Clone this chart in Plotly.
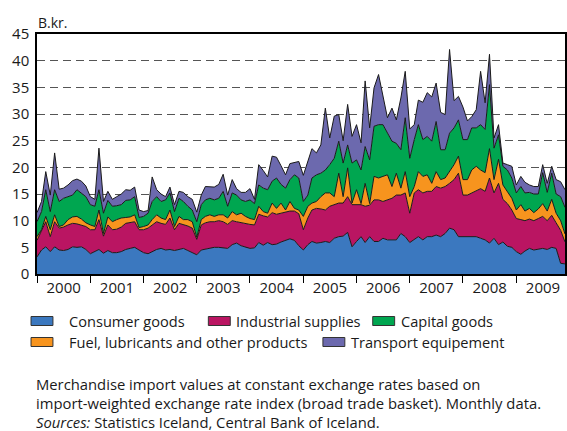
import plotly.graph_objects as go
import pandas as pd

# ---- data (B.kr., monthly, Jan 2000 - Dec 2009) ----
months = pd.date_range("2000-01-01", "2009-12-01", freq="MS")

consumer = [3.2, 4.5, 5.1, 4.2, 5.1, 4.5, 4.4, 4.6, 5.1, 5.0, 5.1, 4.6,
            3.8, 4.2, 4.6, 3.9, 4.4, 4.0, 4.0, 4.2, 4.6, 4.8, 5.0, 4.5,
            4.0, 3.8, 4.2, 4.6, 4.8, 4.5, 4.6, 4.4, 4.6, 4.8, 4.4, 4.0,
            3.6, 4.5, 4.7, 4.8, 5.0, 5.0, 4.9, 4.8, 5.5, 5.8, 5.3, 5.0,
            4.8, 4.9, 5.9, 5.4, 5.9, 5.5, 5.6, 6.0, 6.3, 6.6, 6.3, 5.3,
            4.5, 5.5, 6.1, 5.8, 5.9, 6.1, 5.9, 6.7, 7.0, 7.1, 7.8, 5.1,
            6.1, 7.0, 5.9, 7.0, 6.1, 6.1, 6.7, 6.4, 6.4, 6.4, 7.6, 7.0,
            5.9, 6.4, 7.0, 6.4, 7.0, 7.0, 7.3, 7.0, 7.6, 8.6, 8.3, 7.0,
            7.0, 6.9, 7.0, 7.0, 6.7, 6.4, 5.8, 6.7, 5.5, 6.0, 5.2, 5.0,
            4.2, 3.7, 4.3, 4.8, 4.5, 4.6, 4.8, 4.6, 5.0, 4.8, 2.0, 1.9]

industrial = [3.1, 3.5, 4.7, 2.8, 4.7, 4.1, 4.4, 4.6, 4.4, 4.4, 4.1, 4.3,
              4.5, 4.1, 5.6, 3.2, 4.8, 4.3, 4.4, 4.6, 4.9, 4.8, 4.8, 3.8,
              4.3, 4.8, 5.0, 5.2, 4.7, 4.8, 5.9, 3.9, 4.9, 4.5, 4.6, 4.6,
              2.9, 4.7, 4.9, 5.0, 4.8, 5.0, 4.9, 4.5, 4.5, 4.0, 4.3, 4.4,
              4.5, 4.3, 5.3, 5.5, 4.8, 6.0, 5.6, 5.4, 5.3, 5.2, 5.5, 6.0,
              3.8, 5.0, 5.9, 6.5, 6.3, 5.9, 6.8, 6.3, 6.3, 6.2, 6.7, 7.9,
              6.9, 6.0, 6.8, 5.9, 7.8, 7.8, 6.9, 7.5, 7.8, 8.4, 7.2, 8.2,
              5.5, 8.8, 8.8, 8.8, 8.5, 8.5, 9.1, 9.1, 8.8, 8.4, 9.4, 11.9,
              7.8, 7.9, 8.2, 8.5, 9.3, 9.1, 12.2, 8.5, 11.5, 8.0, 8.0, 7.0,
              6.2, 6.5, 5.7, 5.5, 5.5, 5.8, 6.0, 5.4, 6.0, 4.8, 6.2, 4.1]

fuel = [0.7, 0.3, 1.0, 1.3, 1.3, 0.3, 0.4, 1.0, 1.2, 1.4, 1.1, 0.7,
        0.9, 0.6, 1.8, 0.5, 1.5, 1.5, 1.8, 1.7, 1.1, 1.1, 1.3, 0.4,
        0.6, 0.6, 1.0, 1.3, 1.0, 0.9, 1.5, 0.6, 1.3, 0.9, 1.2, 1.2,
        0.4, 1.0, 1.2, 1.3, 1.0, 1.1, 1.3, 1.2, 1.7, 1.3, 1.8, 1.4,
        1.1, 1.0, 1.5, 0.8, 0.7, 1.8, 1.1, 1.9, 0.4, 1.8, 0.5, 0.7,
        2.5, 2.2, 1.3, 1.3, 2.3, 3.2, 2.5, 1.5, 5.6, 1.2, 5.4, 0.3,
        2.8, 0.2, 4.3, 0.3, 4.4, 4.1, 4.7, 4.7, 2.2, 4.1, 1.3, 4.0,
        3.1, 1.2, 3.4, 3.1, 3.1, 1.5, 2.8, 1.6, 1.6, 2.2, 2.8, 3.2,
        2.9, 2.9, 4.3, 4.7, 3.5, 3.5, 5.5, 2.5, 4.5, 2.7, 2.3, 2.2,
        1.6, 2.8, 1.8, 2.0, 1.5, 1.8, 2.4, 1.8, 3.0, 1.8, 1.8, 1.5]

capital = [2.8, 3.4, 5.0, 3.4, 4.7, 4.7, 5.0, 4.3, 4.1, 5.0, 4.9, 4.9,
           3.8, 3.8, 3.8, 3.8, 3.1, 2.9, 2.6, 2.5, 3.2, 3.2, 3.4, 1.9,
           1.9, 2.2, 3.4, 3.4, 3.1, 3.7, 3.2, 2.8, 3.4, 3.4, 2.5, 2.2,
           2.9, 2.8, 3.1, 3.1, 3.1, 3.1, 4.4, 2.2, 3.5, 3.7, 2.5, 2.8,
           3.5, 3.0, 4.0, 4.4, 4.4, 4.1, 5.7, 3.5, 4.1, 4.1, 6.3, 6.0,
           2.8, 2.1, 4.7, 5.0, 4.4, 4.3, 5.3, 7.2, 6.0, 6.3, 4.3, 7.5,
           5.6, 6.3, 6.9, 8.2, 9.4, 10.0, 9.7, 7.8, 8.5, 5.6, 7.2, 10.1,
           7.2, 8.8, 8.8, 6.9, 7.2, 7.9, 9.4, 5.6, 5.3, 7.2, 6.9, 6.8,
           7.5, 7.5, 7.9, 7.2, 8.5, 8.1, 12.0, 5.9, 4.6, 3.5, 4.0, 3.8,
           3.2, 3.4, 3.4, 3.0, 3.5, 2.8, 5.8, 3.5, 4.9, 3.6, 4.5, 5.0]

transport = [1.7, 1.9, 3.4, 3.1, 6.9, 2.3, 1.9, 2.2, 2.7, 2.0, 2.2, 2.0,
             1.5, 1.3, 7.8, 2.2, 1.7, 1.3, 1.7, 2.0, 2.0, 1.8, 1.8, 1.4,
             0.9, 0.5, 4.6, 1.3, 1.4, 0.6, 1.1, 1.3, 1.3, 1.7, 1.8, 2.0,
             1.8, 1.8, 2.5, 2.1, 2.4, 2.6, 3.2, 2.1, 2.5, 1.2, 1.4, 1.7,
             2.1, 0.8, 3.8, 3.3, 2.4, 4.7, 3.9, 3.5, 2.5, 3.0, 2.3, 3.1,
             4.9, 6.2, 5.5, 4.1, 5.3, 11.6, 5.0, 7.9, 5.0, 4.2, 7.6, 5.0,
             6.6, 5.1, 12.3, 6.0, 7.2, 9.4, 5.3, 2.9, 6.2, 4.4, 9.7, 8.7,
             5.5, 2.8, 4.6, 7.0, 8.2, 8.3, 7.2, 7.0, 6.6, 15.7, 5.1, 4.4,
             6.1, 3.5, 2.1, 3.4, 10.0, 5.0, 5.7, 1.9, 1.9, 0.6, 1.0, 2.2,
             1.5, 1.9, 2.0, 1.4, 1.4, 1.4, 1.5, 1.7, 1.3, 2.7, 2.8, 3.3]

series_names = ["Consumer goods", "Industrial supplies",
                "Fuel, lubricants and other products", "Capital goods",
                "Transport equipement"]
series_values = [consumer, industrial, fuel, capital, transport]
series_colors = ["#3B78BF", "#BA1562", "#F7941E", "#00A650", "#6C69AE"]

y_ticks = list(range(0, 50, 5))

fig = go.Figure()
for name, vals, col in zip(series_names, series_values, series_colors):
    fig.add_trace(go.Scatter(
        x=months, y=vals, name=name, mode="lines", stackgroup="one",
        line=dict(color="#1a1a1a", width=1), fillcolor=col,
        showlegend=False, hoverinfo="skip"))

# plot-area geometry (pixels) for legend/caption placement
L, R, T, B = 37, 567, 34, 274
W, H = R - L, B - T


def px(x):
    return (x - L) / W


def py(y):
    return (B - y) / H


txt = "#1a1a1a"
fig.update_layout(
    width=567, height=431,
    margin=dict(l=L, r=567 - R, t=T, b=431 - B),
    paper_bgcolor="white", plot_bgcolor="white",
    font=dict(family="Open Sans", size=14, color=txt),
    showlegend=False,
    xaxis=dict(
        type="date", range=[months[0], months[-1]],
        tick0="2000-01-01", dtick="M12", tickformat="%Y",
        ticklabelmode="period", ticks="outside", ticklen=7,
        tickcolor="black", tickwidth=1, ticklabelstandoff=-8,
        showline=True, linecolor="black", linewidth=1.5, mirror=True,
        showgrid=False, tickfont=dict(size=15, color=txt)),
    yaxis=dict(
        range=[0, 45], tickvals=y_ticks, ticks="", ticklabelstandoff=3,
        showline=True, linecolor="black", linewidth=1.5, mirror=True,
        showgrid=True, gridcolor="#555555", gridwidth=1.3,
        griddash="8px,5px", zeroline=False,
        tickfont=dict(size=15, color=txt)),
)

annotations = [dict(text="B.kr.", xref="paper", yref="paper",
                    x=px(36), y=py(23), xanchor="left", yanchor="middle",
                    showarrow=False, font=dict(size=14, color=txt))]
shapes = []

legend_items = [  # (series index, swatch x0, text x, row y)
    (0, 31, 67, 321), (1, 209, 235, 321), (3, 374, 400, 321),
    (2, 31, 67, 342), (4, 324, 350, 342),
]
for idx, sx, tx, ry in legend_items:
    shapes.append(dict(type="rect", xref="paper", yref="paper",
                       x0=px(sx), x1=px(sx + 22), y0=py(ry + 4.5), y1=py(ry - 4.5),
                       fillcolor=series_colors[idx],
                       line=dict(color="#333333", width=1)))
    annotations.append(dict(text=series_names[idx], xref="paper", yref="paper",
                            x=px(tx), y=py(ry), xanchor="left", yanchor="middle",
                            showarrow=False, font=dict(size=14.6, color=txt)))

caption = ["Merchandise import values at constant exchange rates based on",
           "import-weighted exchange rate index (broad trade basket). Monthly data.",
           "<i>Sources:</i> Statistics Iceland, Central Bank of Iceland."]
for line, cy in zip(caption, [384, 403, 422]):
    annotations.append(dict(text=line, xref="paper", yref="paper",
                            x=px(34), y=py(cy), xanchor="left", yanchor="middle",
                            showarrow=False, font=dict(size=14.8, color=txt)))

fig.update_layout(annotations=annotations, shapes=shapes)
fig.write_html("out.html", config={"displayModeBar": False},
               post_script="document.body.style.margin='0px';")
